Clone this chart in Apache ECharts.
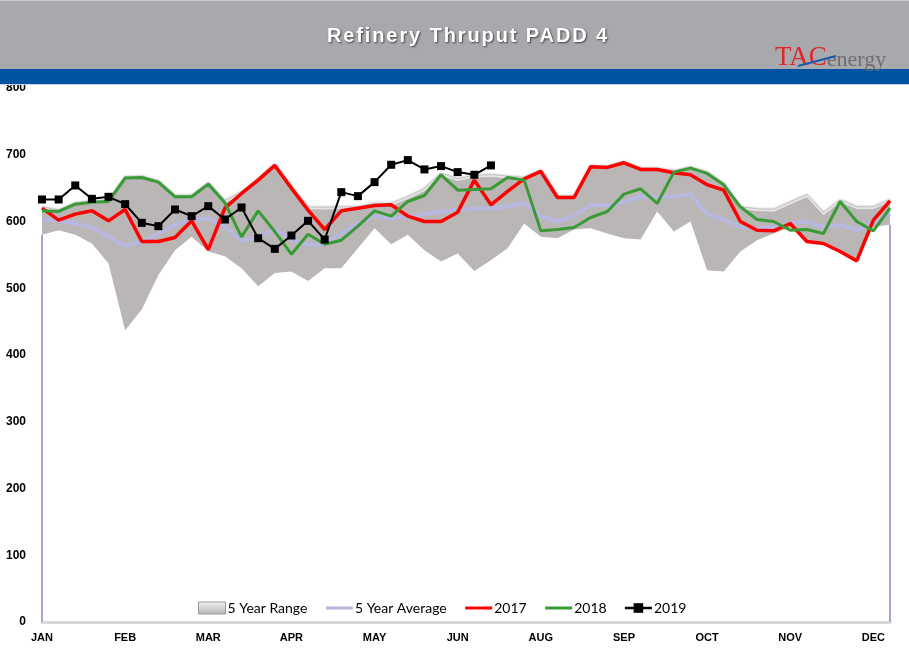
<!DOCTYPE html>
<html>
<head>
<meta charset="utf-8">
<script src="https://cdn.jsdelivr.net/npm/echarts@6/dist/echarts.min.js"></script>
<style>
html,body{margin:0;padding:0;background:#fff;}
#wrap{position:relative;width:909px;height:661px;}
#chart{width:909px;height:661px;}
#title{position:absolute;left:468px;top:35px;transform:translate(-50%,-50%);white-space:nowrap;
  font:bold 20px "Liberation Sans", Arial, sans-serif;letter-spacing:1.9px;color:#fff;
  text-shadow:1px 1px 2px rgba(0,0,0,0.6);pointer-events:none;}
</style>
</head>
<body>
<div id="wrap">
<div id="chart"></div>
<div id="title">Refinery Thruput PADD 4</div>
</div>
<script>
// ---- data ----
var weeks = [];
for (var w = 1; w <= 52; w++) weeks.push('W' + w);
var monthLabels = ['JAN','FEB','MAR','APR','MAY','JUN','AUG','SEP','OCT','NOV','DEC'];
var yTicks = [0,100,200,300,400,500,600,700,800];

var rangeMin = [580,587,580,567,537,437,468,520,557,577,555,548,530,503,523,525,511,530,530,560,590,566,580,557,540,552,526,542,560,597,577,575,588,590,582,575,573,615,585,600,527,525,555,572,582,591,570,567,555,541,592,595];
var rangeMax = [620,615,626,629,630,665,666,659,637,637,656,629,642,662,684,650,620,619,620,620,625,625,635,647,670,662,667,668,666,664,675,636,636,682,681,688,678,678,674,680,672,655,620,617,616,627,638,611,630,620,620,631];
var avg5 = [602,602,597,591,577,563,570,582,595,603,605,592,571,577,588,573,565,566,582,597,608,604,608,611,615,618,619,620,622,628,608,600,608,625,624,629,638,637,637,641,611,603,592,590,591,597,600,592,595,587,598,612];
var y2017 = [620,602,611,616,601,618,570,570,576,601,558,620,642,662,684,650,617,588,616,620,624,625,608,600,600,614,662,625,645,664,675,636,636,682,681,688,678,678,673,670,655,647,600,587,586,597,570,567,555,541,602,631];
var y2018 = [616,615,626,629,630,665,666,659,637,637,656,628,577,616,585,551,581,566,572,593,616,608,630,639,670,647,648,649,666,662,586,588,591,606,615,641,649,627,674,680,672,655,622,603,600,587,588,582,630,600,586,620];
var y2019 = [633,633,654,634,637,626,598,593,618,608,623,603,621,575,559,579,601,573,644,638,659,685,692,678,683,674,670,684];

var rangeSpan = rangeMax.map(function(v, i){ return v - rangeMin[i]; });
var last = weeks.length - 1;

var chart = echarts.init(document.getElementById('chart'), null, {renderer:'canvas'});
var noDot = {opacity:0};
var option = {
  animation: false,
  backgroundColor: '#ffffff',
  graphic: [
    {type:'rect', shape:{x:0,y:0,width:909,height:69}, style:{fill:'#a7a9ac'}, z:100},
    {type:'rect', shape:{x:0,y:0,width:909,height:1}, style:{fill:'#c9cacc'}, z:101},
    {type:'rect', shape:{x:0,y:69,width:909,height:15}, style:{fill:'#0053a1'}, z:100},
    {type:'rect', shape:{x:0,y:84,width:909,height:1}, style:{fill:'#c7d2e2'}, z:100},
    {type:'text', x:775, y:58, z:102, style:{text:'{a|TAC}{b|energy}', verticalAlign:'middle', rich:{a:{fill:'#e0262b', font:'27px "Liberation Serif", "Times New Roman", serif'}, b:{fill:'#6d6e71', font:'22px "Liberation Serif", "Times New Roman", serif', padding:[4,0,0,0]}}}},
    {type:'line', z:103, shape:{x1:798,y1:66,x2:836,y2:56}, style:{stroke:'#1d5aa8', lineWidth:2}}
  ],
  grid: {left:42, right:19, top:88, bottom:39, containLabel:false},
  legend: {
    left: 198, top: 601, padding: 0, itemGap: 17, itemWidth: 27, itemHeight: 12,
    textStyle: {fontFamily:'Lato, "Open Sans", sans-serif', fontSize:14, color:'#000', padding:[0,0,0,-3]},
    data: [
      {name:'5 Year Range', icon:'rect', itemStyle:{color:new echarts.graphic.LinearGradient(0,0,0,1,[{offset:0,color:'#f4f4f4'},{offset:1,color:'#b5b3b3'}]), borderColor:'#9a9a9a', borderWidth:1}},
      {name:'5 Year Average', itemStyle:noDot, lineStyle:{width:3}},
      {name:'2017', itemStyle:noDot, lineStyle:{width:3}},
      {name:'2018', itemStyle:noDot, lineStyle:{width:3}},
      {name:'2019', lineStyle:{width:2.5}}
    ]
  },
  xAxis: {
    type:'category', data:weeks, boundaryGap:false,
    axisLine:{show:true, lineStyle:{color:'#d9d9d9', width:3}},
    axisTick:{show:false},
    splitLine:{show:false},
    axisLabel:{interval:0, margin:10, color:'#000', fontWeight:'bold', fontSize:11, fontFamily:'"Liberation Sans", Arial, sans-serif',
      formatter:function(v, i){ return (i % 5 === 0 && monthLabels[i/5]) ? monthLabels[i/5] : ''; }}
  },
  yAxis: {
    type:'value', min:yTicks[0], max:yTicks[yTicks.length-1], interval:100,
    axisLine:{show:false}, axisTick:{show:false}, splitLine:{show:false},
    axisLabel:{margin:16, color:'#000', fontWeight:'bold', fontSize:12, fontFamily:'"Liberation Sans", Arial, sans-serif'}
  },
  series: [
    {
      name:'rangeBase', type:'line', stack:'range', data:rangeMin, symbol:'none', silent:true,
      lineStyle:{opacity:0}, z:1,
      markLine:{silent:true, symbol:['none','none'], label:{show:false}, lineStyle:{color:'#a7a7cc', width:2, type:'solid'},
        data:[
          [{coord:[0,0]},{coord:[0,rangeMin[0]]}],
          [{coord:[last,0]},{coord:[last,rangeMin[last]]}]
        ]}
    },
    {
      name:'5 Year Range', type:'line', stack:'range', data:rangeSpan, symbol:'none', silent:true, z:2,
      lineStyle:{color:'#e4e2e2', width:2, shadowColor:'rgba(0,0,0,0.35)', shadowBlur:2, shadowOffsetY:-1},
      areaStyle:{color:'#bab6b6', opacity:1}
    },
    {name:'5 Year Average', type:'line', data:avg5, symbol:'none', z:3, itemStyle:{color:'#b7b7df'}, lineStyle:{color:'#b7b7df', width:4}},
    {name:'2017', type:'line', data:y2017, symbol:'none', z:4, itemStyle:{color:'#ff0000'}, lineStyle:{color:'#ff0000', width:3.5}},
    {name:'2018', type:'line', data:y2018, symbol:'none', z:5, itemStyle:{color:'#3a9a36'}, lineStyle:{color:'#3a9a36', width:3}},
    {name:'2019', type:'line', data:y2019, symbol:'rect', symbolSize:8, z:6, itemStyle:{color:'#000'}, lineStyle:{color:'#000', width:2}}
  ]
};
chart.setOption(option);
</script>
</body>
</html>
